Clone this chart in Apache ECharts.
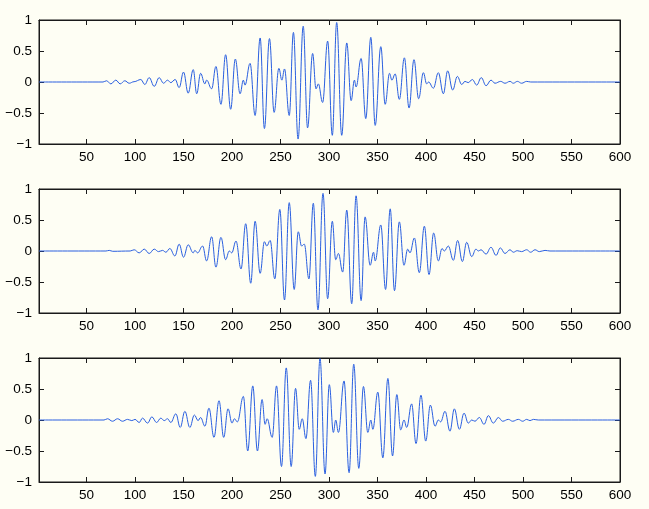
<!DOCTYPE html>
<html><head><meta charset="utf-8">
<script src="https://cdn.jsdelivr.net/npm/echarts@6/dist/echarts.min.js"></script>
<style>html,body{margin:0;padding:0;background:#fefef4;} #c{width:649px;height:509px;}</style>
</head><body><div id="c"></div>
<script>
// x axis tick labels and y axis ticks
const xTicks = [50,100,150,200,250,300,350,400,450,500,550,600];
const yTicks = [-1,-0.5,0,0.5,1];

// Signal 1 (top): sample index and value at each turning point
const s1x = [1,67,70.6,75.1,80.2,84.7,89.5,94,99,106,110.1,114.6,119.8,124.9,129.4,133.5,136.9,141.4,145.5,150,154.8,160,163.6,167.6,172,173.8,179,183.4,188.6,193.4,198.6,203.4,208.3,211.7,213.4,218.6,223.8,229,233.4,238.6,243.4,248.3,251.4,254.1,259,263.3,268.1,273.4,277.9,283.1,286.6,289,293.4,298.6,303.4,307.9,313.1,318.3,322.8,326.2,327.9,333.1,337.9,343.1,347.6,353.4,357.9,362.4,364.8,368.2,372.5,377.7,382.5,387.6,392.4,397.3,400.7,402.7,407.6,412.7,417.9,422.3,427.5,432.3,436.8,440.2,443.5,447.8,452.2,457,461.9,467,471.1,477,481.4,486.6,490,494.2,498.6,503.8,508,600];
const s1y = [0,0,0.02,-0.03,0.03,-0.03,0.02,-0.02,0.005,0.04,-0.04,0.07,-0.07,0.07,-0.02,0.03,-0.01,0.04,-0.09,0.16,-0.18,0.2,-0.19,0.14,-0.03,0.03,-0.11,0.25,-0.36,0.44,-0.44,0.37,-0.19,0.03,-0.05,0.30,-0.54,0.71,-0.75,0.70,-0.49,0.22,0.03,0.21,-0.54,0.80,-0.92,0.90,-0.74,0.46,-0.11,-0.03,-0.33,0.66,-0.86,0.96,-0.86,0.63,-0.30,0.03,-0.08,0.38,-0.59,0.72,-0.70,0.57,-0.36,0.14,0.03,0.13,-0.28,0.39,-0.42,0.36,-0.27,0.15,-0.03,0.0,-0.10,0.15,-0.19,0.18,-0.13,0.09,-0.04,0.01,-0.01,0.04,-0.05,0.07,-0.06,0.03,-0.02,0.01,-0.02,0.01,-0.02,0.01,-0.02,0.01,0,0];

// Signal 2 (middle)
const s2x = [1,70,73.4,77,95,99.1,104.3,109.5,114.6,119.8,124.2,128.4,131.8,135.9,141.1,145.5,150,154.8,160,161.7,164.5,169.7,173.8,179,183.4,188.6,193.4,197.2,199.7,204.1,209.3,214.1,219.3,223.8,229,233.4,235.9,239.3,244.1,249.3,254.1,259,264.1,268.3,271.7,274.5,279.3,283.8,288.6,293.8,298.6,303.4,306.9,309.7,314.1,318.3,323.4,327.9,333.1,337.2,342.4,345.9,347.6,353.4,358.3,363.1,367.5,372.5,377.3,381.1,383.5,388,393.1,398.3,403.1,407.9,412.7,416.5,418.9,423,428.2,432.6,437.5,441.9,447.1,451.5,454,456.7,461.9,467,472.2,476.6,481.4,486.6,490,494,498.5,503.8,507.9,512.4,516.8,522.7,527.8,600];
const s2y = [0,0,0.01,-0.005,0,0.02,-0.03,0.03,-0.04,0.03,-0.01,0.01,-0.02,0.04,-0.08,0.11,-0.10,0.10,-0.03,0.01,-0.03,0.08,-0.16,0.23,-0.26,0.22,-0.14,0.0,-0.03,0.16,-0.29,0.44,-0.52,0.48,-0.36,0.15,0.08,0.17,-0.45,0.67,-0.79,0.78,-0.62,0.31,0.08,0.11,-0.45,0.77,-0.95,0.93,-0.77,0.48,-0.14,-0.04,-0.34,0.66,-0.85,0.89,-0.80,0.55,-0.23,-0.02,-0.16,0.42,-0.62,0.68,-0.64,0.47,-0.23,0.03,-0.03,0.21,-0.35,0.40,-0.38,0.29,-0.16,0.04,0.0,0.08,-0.15,0.17,-0.17,0.14,-0.09,0.03,0.0,0.02,-0.05,0.06,-0.07,0.05,-0.04,0.02,-0.02,0.005,-0.01,0.02,-0.02,0.02,-0.01,0.01,0,0];

// Signal 3 (bottom)
const s3x = [1,68,71.6,76.8,82,87.1,92.3,96.7,100,104.3,107.7,112.9,117.4,122.2,126.6,130.1,133.5,136.9,142.1,146.6,151.4,156.5,161.2,165,167.6,172.1,176.2,181.4,186.6,191.4,195.9,200,202.4,205.5,211.7,216.2,221.4,226.2,231,234.1,236.2,241.4,245.9,251,255.9,261,265.5,269.3,272.4,276.2,281,285.9,290.7,295.9,300.3,304.5,306.9,309.7,315.5,320.7,325.5,330.7,335.5,340,343.1,345.2,350.3,355.5,360.7,365.5,369.9,373.9,377.3,380.1,385.2,389.7,394.8,399.7,404.5,409.3,412.7,415.1,419.6,424.7,429.2,434.4,439.2,443.6,447.1,450.5,455,459.8,464.3,469.4,474.6,479,484.9,489.3,495.2,499.7,503.8,507.2,510.7,515.8,600];
const s3y = [0,0,0.02,-0.02,0.02,-0.02,0.01,-0.01,0.01,-0.04,0.03,-0.05,0.05,-0.04,0.03,-0.01,0.02,-0.04,0.10,-0.12,0.14,-0.12,0.08,-0.01,0.04,-0.10,0.19,-0.28,0.31,-0.28,0.18,-0.05,0.02,-0.03,0.38,-0.50,0.55,-0.50,0.33,-0.07,0.02,-0.28,0.55,-0.75,0.84,-0.75,0.51,-0.15,0.02,-0.30,0.64,-0.91,0.99,-0.87,0.57,-0.20,0.0,-0.20,0.63,-0.85,0.90,-0.78,0.54,-0.20,0.0,-0.15,0.45,-0.61,0.67,-0.58,0.41,-0.16,0.0,-0.12,0.26,-0.38,0.40,-0.34,0.24,-0.10,0.0,-0.03,0.14,-0.18,0.18,-0.15,0.11,-0.05,0.0,-0.02,0.04,-0.07,0.07,-0.05,0.04,-0.02,0.01,-0.02,0.01,-0.02,0.01,-0.01,0.01,0,0];

const signalsX = [s1x, s2x, s3x];
const signalsY = [s1y, s2y, s3y];

const bg = '#fefef4';
const ink = '#1a1a1a';
const lineColor = '#2a5fe0';
const font = 'Liberation Sans, Arial, Helvetica, sans-serif';
const tops = [20, 189, 358];
const plotH = 124;
const fmtY = v => (v < 0 ? '\u2212' + String(-v) : String(v));

const grid = [], xAxis = [], yAxis = [], series = [];
tops.forEach((t, i) => {
  grid.push({left: 39, right: 29, top: t, height: plotH, show: true, backgroundColor: bg, borderColor: ink, borderWidth: 1});
  const common = {gridIndex: i, type: 'value', splitLine: {show: false},
    axisLine: {show: true, onZero: false, lineStyle: {color: ink, width: 1}}};
  const tickX = {show: true, inside: true, length: 5, customValues: xTicks, lineStyle: {color: ink, width: 1}};
  const tickY = {show: true, inside: true, length: 5, lineStyle: {color: ink, width: 1}};
  xAxis.push(Object.assign({}, common, {position: 'bottom', min: 1, max: 600, axisTick: tickX,
    axisLabel: {show: true, customValues: xTicks, color: '#000', fontSize: 13.5, fontFamily: font, margin: 6,
      formatter: v => String(v)}}));
  xAxis.push(Object.assign({}, common, {position: 'top', min: 1, max: 600, axisTick: tickX,
    axisLabel: {show: false}}));
  yAxis.push(Object.assign({}, common, {position: 'left', min: -1, max: 1, interval: 0.5, axisTick: tickY,
    axisLabel: {show: true, color: '#000', fontSize: 13.5, fontFamily: font, margin: 7, formatter: fmtY}}));
  yAxis.push(Object.assign({}, common, {position: 'right', min: -1, max: 1, interval: 0.5, axisTick: tickY,
    axisLabel: {show: false}}));
  const data = signalsX[i].map((x, k) => [x, signalsY[i][k]]);
  series.push({type: 'line', xAxisIndex: i * 2, yAxisIndex: i * 2, data: data,
    showSymbol: false, smooth: 0.4, smoothMonotone: 'x',
    lineStyle: {color: lineColor, width: 1}, itemStyle: {color: lineColor}, silent: true});
});

const chart = echarts.init(document.getElementById('c'), null, {renderer: 'canvas'});
chart.setOption({backgroundColor: bg, animation: false, grid, xAxis, yAxis, series});
</script>
</body></html>
